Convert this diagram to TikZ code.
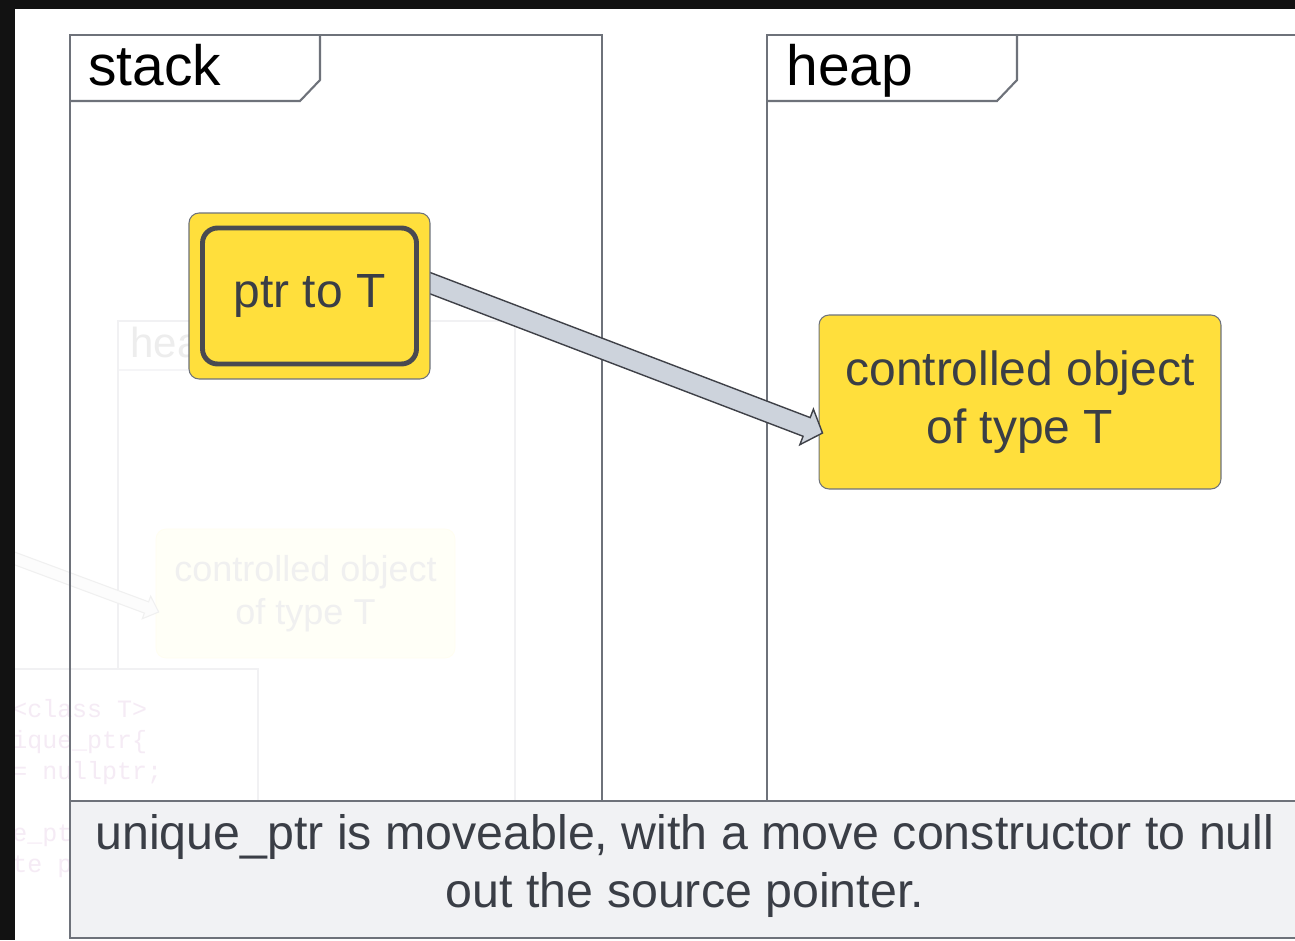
\documentclass[tikz,border=0pt]{standalone}
\usepackage{fontspec}
\setmainfont{Liberation Sans}
\setmonofont{Liberation Mono}
\usetikzlibrary{calc}

\definecolor{framegray}{HTML}{6E727A}
\definecolor{objyellow}{HTML}{FFDF3C}
\definecolor{textgray}{HTML}{3A3E46}
\definecolor{notefill}{HTML}{F1F2F4}
\definecolor{shaftfill}{HTML}{CDD3DC}
\definecolor{shaftline}{HTML}{3F4148}
\definecolor{ghostgray}{HTML}{F1F1F3}

\pgfdeclarelayer{front}
\pgfsetlayers{main,front}

% hollow block arrow: [style]{from}{to}{half shaft}{half head}{head length}
\newcommand{\fatarrow}[6][]{%
  \coordinate (neck) at ($(#3)!#6!(#2)$);
  \draw[#1] ($(#2)!#4!90:(#3)$) -- ($(neck)!#4!-90:(#2)$)
    -- ($(neck)!#5!-90:(#2)$) -- (#3) -- ($(neck)!#5!90:(#2)$)
    -- ($(neck)!#4!90:(#2)$) -- ($(#2)!#4!-90:(#3)$) -- cycle;}

\tikzset{
  frameline/.style={draw=framegray, line width=1.2pt},
  framelabel/.style={inner sep=0pt, text=black, font=\fontsize{32.4}{38}\selectfont},
  ptrbox/.style={draw=framegray, fill=objyellow, rounded corners=0.2cm,
    line width=0.6pt, minimum width=4.82cm, minimum height=3.32cm},
  ptrinner/.style={draw=shaftline!95, line width=2.8pt, rounded corners=0.3cm,
    minimum width=4.28cm, minimum height=2.72cm, text=textgray,
    font=\fontsize{27.3}{33}\selectfont},
  objbox/.style={draw=framegray, fill=objyellow, rounded corners=0.2cm,
    line width=0.6pt, minimum width=8.04cm, minimum height=3.48cm,
    text=textgray, align=center, font=\fontsize{27.3}{33}\selectfont},
  shaft/.style={fill=shaftfill, draw=shaftline, line width=0.8pt, line join=miter},
  notebox/.style={fill=notefill, draw=framegray, line width=1.2pt},
  notetext/.style={text=textgray, align=center, font=\fontsize{27.5}{33}\selectfont},
  ghostline/.style={draw=ghostgray, line width=0.8pt},
  ghostlabel/.style={inner sep=0pt, text=black!7, font=\fontsize{23.9}{28}\selectfont},
  ghostbox/.style={draw=yellow!6, fill=yellow!3, rounded corners=0.2cm,
    minimum width=5.98cm, minimum height=2.58cm, text=black!6, align=center,
    font=\fontsize{20.5}{24.5}\selectfont},
  ghostshaft/.style={fill=black!1, draw=black!6, line width=0.6pt},
  ghostcode/.style={inner sep=0pt, text=violet!8, font=\ttfamily\fontsize{14.2}{17}\selectfont}
}

\begin{document}
\begin{tikzpicture}[x=0.02cm, y=-0.02cm]
\useasboundingbox (0,0) rectangle (1295,940);
\clip (0,0) rectangle (1295,940);
\fill[black!93] (0,0) rectangle (1295,940);
\fill[white] (15,9) rectangle (1295,940);

% faded earlier frame underneath
\begin{scope}
\clip (15,9) rectangle (1295,940);
\draw[ghostline] (118,801) -- (118,321) -- (515,321) -- (515,801);
\draw[ghostline] (118,370) -- (300,370) -- (314,356) -- (314,321);
\node[ghostlabel, anchor=base west] (oldheap) at (130,357) {heap};
\node[ghostbox] (oldobj) at (305.5,593.5) {controlled object\\of type T};
\coordinate (oldsrc) at (0,553);
\coordinate (oldtip) at ([xshift=0.06cm, yshift=-0.37cm]oldobj.west);
\fatarrow[ghostshaft]{oldsrc}{oldtip}{0.12cm}{0.24cm}{0.26cm}
\fill[white] (-10,669) rectangle (258,820);
\draw[ghostline] (-10,669) -- (258,669) -- (258,820);
\node[ghostcode, anchor=base west] (code1) at (12,717) {<class T>};
\node[ghostcode, anchor=base west] (code2) at (12,748) {ique\_ptr\{};
\node[ghostcode, anchor=base west] (code3) at (12,779) {= nullptr;};
\node[ghostcode, anchor=base west] (code4) at (12,841) {e\_pt};
\node[ghostcode, anchor=base west] (code5) at (12,872) {te p};
\end{scope}

% stack and heap frames
\draw[frameline] (70,801) -- (70,35) -- (602,35) -- (602,801);
\draw[frameline] (70,101) -- (300,101) -- (320,80) -- (320,35);
\node[framelabel, anchor=base west] (stack) at (88,85) {stack};
\draw[frameline] (767,801) -- (767,35) -- (1310,35);
\draw[frameline] (767,101) -- (997,101) -- (1017,80) -- (1017,35);
\node[framelabel, anchor=base west] (heap) at (786,85) {heap};

\begin{pgfonlayer}{front}
\node[ptrbox] (ptr) at (309.5,296) {};
\node[ptrinner] (ptrval) at (ptr.center) {ptr to T};
\end{pgfonlayer}
\node[objbox] (obj) at (1020,402) {controlled object\\of type T};

\coordinate (src) at ([xshift=-0.2cm, yshift=0.33cm]ptr.east);
\coordinate (tip) at ([xshift=0.08cm, yshift=-0.62cm]obj.west);
\fatarrow[shaft]{src}{tip}{0.2cm}{0.38cm}{0.34cm}

% caption
\filldraw[notebox] (70,801) rectangle (1310,938);
\node[notetext] (note) at (685,866)
  {unique\_ptr is moveable, with a move constructor to null\\out the source pointer.};
\end{tikzpicture}
\end{document}
